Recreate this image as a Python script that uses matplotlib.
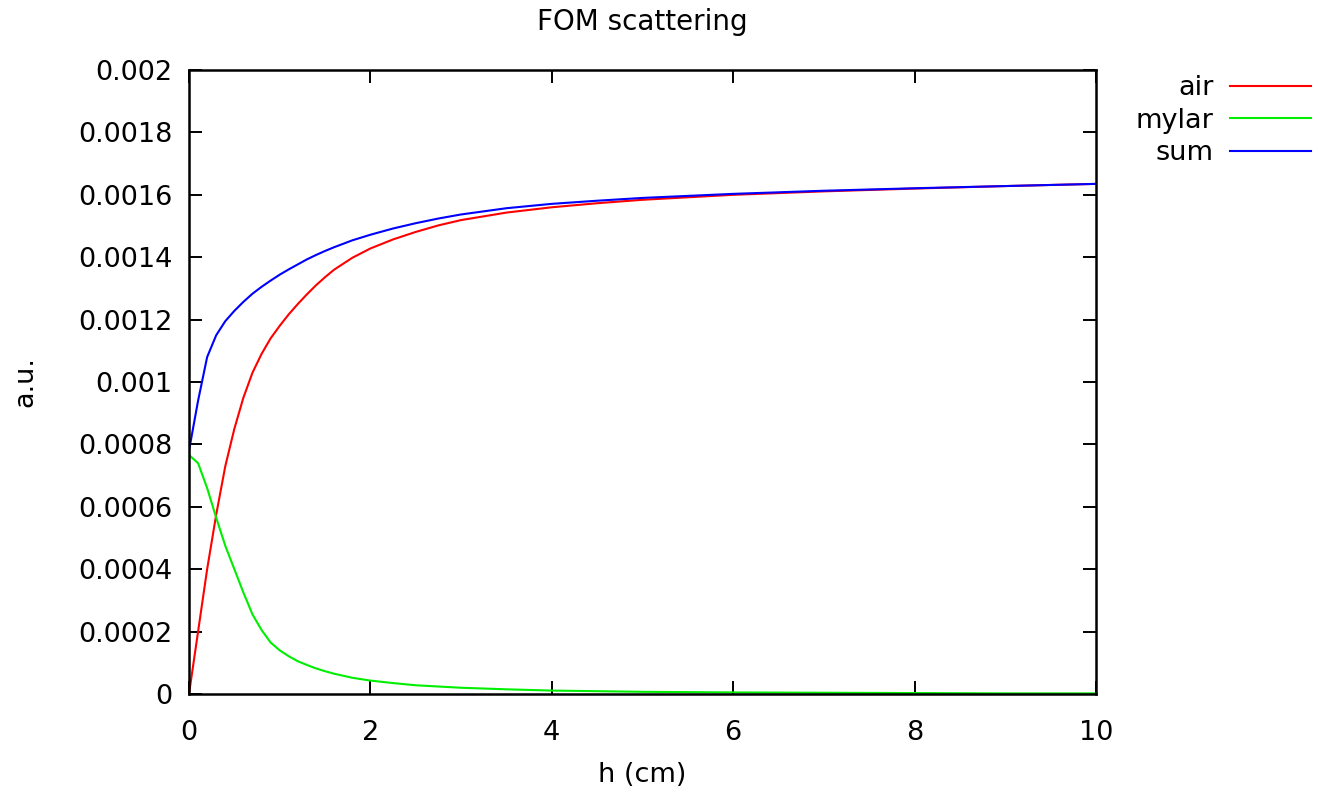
import matplotlib
matplotlib.use("Agg")
import matplotlib.pyplot as plt

plt.rcParams['font.family'] = ['DejaVu Sans']

# Height above sample (cm)
h = [0, 0.1, 0.2, 0.3, 0.4, 0.5, 0.6, 0.7, 0.8, 0.9, 1.0, 1.1, 1.2, 1.3,
     1.4, 1.5, 1.6, 1.8, 2.0, 2.25, 2.5, 2.75, 3.0, 3.5, 4.0, 4.5, 5.0,
     6.0, 7.0, 8.0, 9.0, 10.0]

# Figure of merit contributions (a.u.)
air = [0, 0.000200, 0.000400, 0.000575, 0.000730, 0.000850, 0.000950,
       0.001030, 0.001090, 0.001140, 0.001180, 0.001217, 0.001250,
       0.001281, 0.001310, 0.001336, 0.001360, 0.001398, 0.001428,
       0.001457, 0.001481, 0.001502, 0.001519, 0.001543, 0.001560,
       0.001573, 0.001584, 0.001600, 0.001611, 0.001620, 0.001628,
       0.001635]
mylar = [0.000766, 0.000740, 0.000660, 0.000565, 0.000475, 0.000400,
         0.000325, 0.000255, 0.000205, 0.000165, 0.000140, 0.000121,
         0.000105, 0.000093, 0.000082, 0.000073, 0.000065, 0.000052,
         0.000043, 0.000035, 0.000028, 0.000024, 0.000020, 0.000015,
         0.000011, 0.000009, 0.000007, 0.000005, 0.000004, 0.000003,
         0.000002, 0.000002]
total = [0.000780, 0.000940, 0.001080, 0.001150, 0.001195, 0.001228,
         0.001257, 0.001283, 0.001305, 0.001325, 0.001344, 0.001361,
         0.001377, 0.001393, 0.001407, 0.001420, 0.001432, 0.001454,
         0.001472, 0.001492, 0.001509, 0.001524, 0.001537, 0.001557,
         0.001571, 0.001581, 0.001590, 0.001603, 0.001613, 0.001621,
         0.001628, 0.001635]

series_names = ["air", "mylar", "sum"]
series_colors = ["#ff0000", "#00ee00", "#0000ff"]

x_ticks = [0, 2, 4, 6, 8, 10]
x_tick_labels = ["0", "2", "4", "6", "8", "10"]
y_ticks = [0, 0.0002, 0.0004, 0.0006, 0.0008, 0.001, 0.0012, 0.0014,
           0.0016, 0.0018, 0.002]
y_tick_labels = ["0", "0.0002", "0.0004", "0.0006", "0.0008", "0.001",
                 "0.0012", "0.0014", "0.0016", "0.0018", "0.002"]

W, H = 1320, 790
fig = plt.figure(figsize=(W / 100, H / 100), dpi=100)
ax = fig.add_axes([189 / W, 1 - 694 / H, (1096 - 189) / W, (694 - 70) / H])

for ys, name, col in zip([air, mylar, total], series_names, series_colors):
    ax.plot(h, ys, color=col, lw=1.5, label=name)

ax.set_xlim(0, 10)
ax.set_ylim(0, 0.002)
ax.set_xticks(x_ticks)
ax.set_xticklabels(x_tick_labels)
ax.set_yticks(y_ticks)
ax.set_yticklabels(y_tick_labels)

fs = 19.5
ax.tick_params(axis='both', direction='in', length=9.5, width=1.4,
               top=True, right=True, labelsize=fs, colors='black')
ax.tick_params(axis='x', pad=19)
ax.tick_params(axis='y', pad=12)
for sp in ax.spines.values():
    sp.set_linewidth(1.8)
    sp.set_color('black')

fig.text(642.5 / W, 1 - 22 / H, "FOM scattering", ha='center', va='center',
         fontsize=20)
fig.text(642.5 / W, 1 - 775 / H, "h (cm)", ha='center', va='center',
         fontsize=fs)
fig.text(25 / W, 1 - 382 / H, "a.u.", ha='center', va='center',
         rotation=90, fontsize=fs)

ax.legend(loc='upper right', bbox_to_anchor=(1311 / W, 1 - 75 / H),
          bbox_transform=fig.transFigure, frameon=False, fontsize=fs,
          markerfirst=False, handlelength=3.0, handletextpad=0.6,
          labelspacing=0.24, borderpad=0, borderaxespad=0)

fig.savefig("out.png", dpi=100)
